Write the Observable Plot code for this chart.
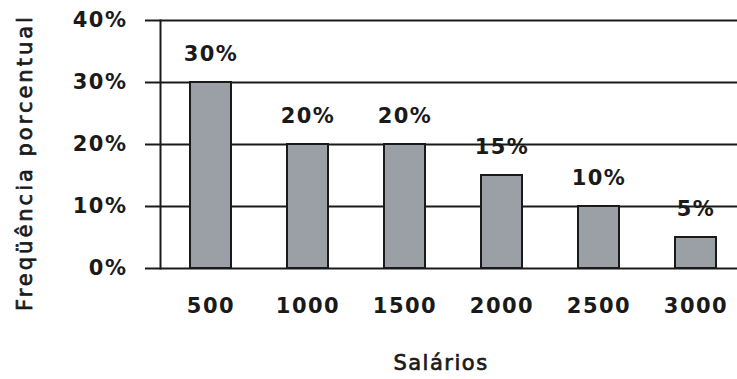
<!DOCTYPE html>
<html>
<head>
<meta charset="utf-8">
<script src="https://cdn.jsdelivr.net/npm/d3@7"></script>
<script src="https://cdn.jsdelivr.net/npm/@observablehq/plot@0.6"></script>
<style>
  html, body { margin: 0; padding: 0; background: #fff; }
  #chart { width: 737px; height: 379px; }
  .ytitle text { letter-spacing: 3px; }
</style>
</head>
<body>
<div id="chart"></div>
<script>
const salarios = ["500", "1000", "1500", "2000", "2500", "3000"];
const frequencias = [30, 20, 20, 15, 10, 5];
const yTicks = [0, 10, 20, 30, 40];
const xTitle = "Salários";
const yTitle = "Freqüência porcentual";

const data = salarios.map((s, i) => ({salario: s, freq: frequencias[i]}));
const ink = "#1a1a1a";

const chart = Plot.plot({
  width: 737,
  height: 379,
  marginTop: 20,
  marginBottom: 111,
  marginLeft: 160,
  marginRight: 0,
  style: {fontFamily: "DejaVu Sans", background: "white", color: ink, letterSpacing: "1.5px", overflow: "visible"},
  x: {domain: salarios, range: [160, 745], paddingInner: 0.58, paddingOuter: 0.29, align: 0.5},
  y: {domain: [0, 40]},
  marks: [
    Plot.ruleY(yTicks, {stroke: ink, strokeWidth: 2}),
    Plot.barY(data, {x: "salario", y: "freq", fill: "#9b9fa6", stroke: ink, strokeWidth: 2}),
    Plot.frame({anchor: "left", stroke: ink, strokeWidth: 2}),
    Plot.axisY(yTicks, {tickSize: 15, tickPadding: 18, tickFormat: d => d + "%", fontSize: 21, fontWeight: "bold", strokeWidth: 2, label: null}),
    Plot.axisX({tickSize: 0, tickPadding: 30, fontSize: 21, fontWeight: "bold", label: null}),
    Plot.text(data, {x: "salario", y: "freq", text: d => d.freq + "%", dy: -28, fontSize: 21, fontWeight: "bold"}),
    Plot.text([xTitle], {frameAnchor: "bottom", lineAnchor: "middle", textAnchor: "middle", dy: 95, dx: -8, fontSize: 21, fill: ink, stroke: ink, strokeWidth: 0.7}),
    Plot.text([yTitle], {frameAnchor: "left", textAnchor: "middle", lineAnchor: "middle", rotate: -90, dx: -135, dy: 18, fontSize: 21, fill: ink, stroke: ink, strokeWidth: 0.7, className: "ytitle"})
  ]
});
document.getElementById("chart").appendChild(chart);
</script>
</body>
</html>
